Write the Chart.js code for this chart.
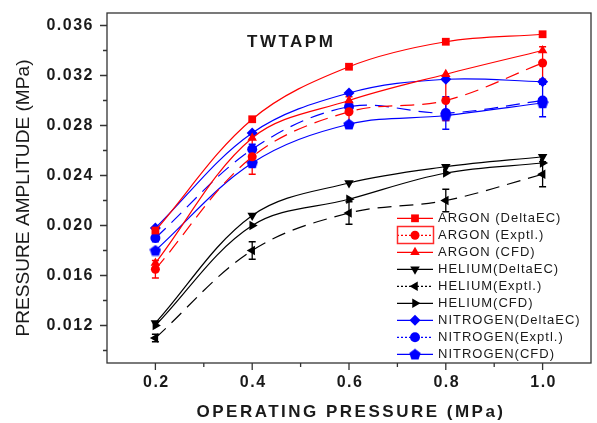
<!DOCTYPE html>
<html>
<head>
<meta charset="utf-8">
<script src="https://cdn.jsdelivr.net/npm/chart.js@4.4.1/dist/chart.umd.min.js"></script>
<style>
  body { margin: 0; background: #fff; }
  #wrap { width: 597px; height: 423px; position: relative; }
</style>
</head>
<body>
<div id="wrap"><canvas id="myChart"></canvas></div>
<script>
// values
var pressure = [0.2, 0.4, 0.6, 0.8, 1.0];

var argonDeltaEC = [0.0196, 0.0285, 0.0327, 0.0347, 0.0353];
var argonExptl = [0.0165, 0.0255, 0.0291, 0.0300, 0.0330];
var argonExptlErr = [0.0007, 0.0014, 0.0012, 0.0016, 0.0013];
var argonCFD = [0.0170, 0.0270, 0.0300, 0.0321, 0.0340];

var heliumDeltaEC = [0.0122, 0.0208, 0.0234, 0.0247, 0.0255];
var heliumExptl = [0.0110, 0.0180, 0.0210, 0.0220, 0.0241];
var heliumExptlErr = [0.0003, 0.0007, 0.0009, 0.0009, 0.0010];
var heliumCFD = [0.0120, 0.0200, 0.0221, 0.0242, 0.0250];

var nitrogenDeltaEC = [0.0198, 0.0274, 0.0306, 0.0317, 0.0315];
var nitrogenExptl = [0.0190, 0.0261, 0.0295, 0.0290, 0.0300];
var nitrogenExptlErr = [0.0003, 0.0004, 0.0004, 0.0013, 0.0013];
var nitrogenCFD = [0.0180, 0.0250, 0.0281, 0.0288, 0.0298];

var xTicks = [0.2, 0.4, 0.6, 0.8, 1.0];
var xMinorTicks = [0.3, 0.5, 0.7, 0.9];
var yTicks = [0.012, 0.016, 0.020, 0.024, 0.028, 0.032, 0.036];
var yMinorTicks = [0.010, 0.014, 0.018, 0.022, 0.026, 0.030, 0.034];

var RED = '#ff0000', BLUE = '#0000ff', BLACK = '#000000';

// pentagon marker for nitrogen CFD
var pent = document.createElement('canvas');
pent.width = 12; pent.height = 12;
(function () {
    var c = pent.getContext('2d');
    c.fillStyle = BLUE;
    c.beginPath();
    for (var i = 0; i < 5; i++) {
        var a = -Math.PI / 2 + i * 2 * Math.PI / 5;
        var px = 6 + 6 * Math.cos(a), py = 6.5 + 6 * Math.sin(a);
        if (i === 0) c.moveTo(px, py); else c.lineTo(px, py);
    }
    c.closePath();
    c.fill();
})();

function pts(arr) {
    return pressure.map(function (p, i) { return { x: p, y: arr[i] }; });
}

function series(label, arr, color, style, rot, dashed, radius, err) {
    return {
        label: label,
        data: pts(arr),
        borderColor: color,
        backgroundColor: color,
        borderWidth: 1.2,
        borderDash: dashed ? [14, 8] : [],
        pointStyle: style,
        rotation: rot,
        pointRadius: radius,
        pointBorderWidth: 0,
        tension: 0.35,
        err: err
    };
}

var datasets = [
    series('ARGON (DeltaEC)', argonDeltaEC, RED, 'rect', 0, false, 5.5),
    series('ARGON (Exptl.)', argonExptl, RED, 'circle', 0, true, 4.5, argonExptlErr),
    series('ARGON (CFD)', argonCFD, RED, 'triangle', 0, false, 5.5),
    series('HELIUM(DeltaEC)', heliumDeltaEC, BLACK, 'triangle', 180, false, 5.5),
    series('HELIUM(Exptl.)', heliumExptl, BLACK, 'triangle', 270, true, 5.5, heliumExptlErr),
    series('HELIUM(CFD)', heliumCFD, BLACK, 'triangle', 90, false, 5.5),
    series('NITROGEN(DeltaEC)', nitrogenDeltaEC, BLUE, 'rectRot', 0, false, 5.5),
    series('NITROGEN(Exptl.)', nitrogenExptl, BLUE, 'circle', 0, true, 5, nitrogenExptlErr),
    series('NITROGEN(CFD)', nitrogenCFD, BLUE, pent, 0, false, 6)
];

function spaced(ctx, px) {
    if ('letterSpacing' in ctx) ctx.letterSpacing = px + 'px';
}

var decor = {
    id: 'decor',
    beforeDatasetsDraw: function (chart) {
        var ctx = chart.ctx, y = chart.scales.y;
        ctx.save();
        chart.data.datasets.forEach(function (ds, i) {
            if (!ds.err) return;
            var meta = chart.getDatasetMeta(i);
            ctx.strokeStyle = ds.borderColor;
            ctx.lineWidth = 1.3;
            meta.data.forEach(function (pt, j) {
                var v = ds.data[j].y, e = ds.err[j];
                var top = y.getPixelForValue(v + e), bot = y.getPixelForValue(v - e);
                ctx.beginPath();
                ctx.moveTo(pt.x, top); ctx.lineTo(pt.x, bot);
                ctx.moveTo(pt.x - 3.5, top); ctx.lineTo(pt.x + 3.5, top);
                ctx.moveTo(pt.x - 3.5, bot); ctx.lineTo(pt.x + 3.5, bot);
                ctx.stroke();
            });
        });
        ctx.restore();
    },
    afterDraw: function (chart) {
        var ctx = chart.ctx, a = chart.chartArea;
        var xs = chart.scales.x, ys = chart.scales.y;
        ctx.save();
        // frame
        ctx.strokeStyle = '#333';
        ctx.lineWidth = 1.3;
        ctx.strokeRect(a.left, a.top, a.right - a.left, a.bottom - a.top);

        // ticks
        ctx.beginPath();
        xTicks.forEach(function (v) { var px = xs.getPixelForValue(v); ctx.moveTo(px, a.bottom); ctx.lineTo(px, a.bottom + 7); });
        xMinorTicks.forEach(function (v) { var px = xs.getPixelForValue(v); ctx.moveTo(px, a.bottom); ctx.lineTo(px, a.bottom + 4); });
        yTicks.forEach(function (v) { var py = ys.getPixelForValue(v); ctx.moveTo(a.left, py); ctx.lineTo(a.left - 7, py); });
        yMinorTicks.forEach(function (v) { var py = ys.getPixelForValue(v); ctx.moveTo(a.left, py); ctx.lineTo(a.left - 4, py); });
        ctx.stroke();

        // tick labels
        ctx.fillStyle = '#1a1a1a';
        ctx.font = 'bold 16px "Liberation Sans", Arial, sans-serif';
        spaced(ctx, 1.5);
        ctx.textBaseline = 'middle';
        ctx.textAlign = 'center';
        xTicks.forEach(function (v) { ctx.fillText(v.toFixed(1), xs.getPixelForValue(v) + 1, 383); });
        ctx.textAlign = 'right';
        yTicks.forEach(function (v) { ctx.fillText(v.toFixed(3), 94, ys.getPixelForValue(v)); });

        // axis titles
        ctx.font = 'bold 17px "Liberation Sans", Arial, sans-serif';
        spaced(ctx, 2.5);
        ctx.textAlign = 'center';
        ctx.fillText('OPERATING PRESSURE (MPa)', 351, 412);

        // y title is a condensed face in the original: squeeze to its length
        spaced(ctx, 0);
        ctx.save();
        ctx.font = '19px "Liberation Sans", Arial, sans-serif';
        var yt = 'PRESSURE AMPLITUDE (MPa)';
        var w = ctx.measureText(yt).width;
        ctx.translate(24, 198);
        ctx.rotate(-Math.PI / 2);
        ctx.scale(277 / w, 1);
        ctx.fillText(yt, 0, 0);
        ctx.restore();

        // inner title
        ctx.font = 'bold 17px "Liberation Sans", Arial, sans-serif';
        spaced(ctx, 2.5);
        ctx.textAlign = 'left';
        ctx.fillText('TWTAPM', 247, 42);

        // legend
        var lx0 = 397, lx1 = 433, ly = 218.3, step = 17.0;
        ctx.font = '13px "Liberation Sans", Arial, sans-serif';
        spaced(ctx, 1);
        chart.data.datasets.forEach(function (ds, i) {
            var yy = ly + i * step;
            ctx.save();
            ctx.strokeStyle = ds.borderColor;
            ctx.lineWidth = 1.2;
            ctx.setLineDash(ds.err ? [2, 2] : []);
            ctx.beginPath();
            ctx.moveTo(lx0, yy); ctx.lineTo(lx1, yy);
            ctx.stroke();
            ctx.setLineDash([]);
            ctx.fillStyle = ds.backgroundColor;
            Chart.helpers.drawPoint(ctx, {
                pointStyle: ds.pointStyle,
                rotation: ds.rotation,
                radius: ds.pointRadius,
                borderWidth: 0
            }, (lx0 + lx1) / 2, yy);
            ctx.restore();
            ctx.fillStyle = '#1a1a1a';
            ctx.textAlign = 'left';
            ctx.fillText(ds.label, 438, yy + 0.5);
        });
        // selection box around the second entry
        spaced(ctx, 0);
        ctx.setLineDash([]);
        ctx.strokeStyle = '#ff2a2a';
        ctx.lineWidth = 1.5;
        ctx.strokeRect(397.5, 226.5, 36, 17);
        ctx.restore();
    }
};

var ctx = document.getElementById('myChart').getContext('2d');
var myChart = new Chart(ctx, {
    type: 'line',
    data: { datasets: datasets },
    options: {
        responsive: true,
        maintainAspectRatio: false,
        animation: false,
        layout: { padding: { top: 13, right: 5, left: 0, bottom: 0 } },
        plugins: {
            legend: { display: false },
            tooltip: { enabled: false }
        },
        scales: {
            x: {
                type: 'linear',
                min: 0.1,
                max: 1.1,
                grid: { display: false, drawTicks: false },
                border: { display: false },
                ticks: { display: false },
                afterBuildTicks: function (s) { s.ticks = xTicks.map(function (v) { return { value: v }; }); },
                afterFit: function (s) { s.height = 60; }
            },
            y: {
                min: 0.009,
                max: 0.037,
                grid: { display: false, drawTicks: false },
                border: { display: false },
                ticks: { display: false },
                afterBuildTicks: function (s) { s.ticks = yTicks.map(function (v) { return { value: v }; }); },
                afterFit: function (s) { s.width = 107; }
            }
        }
    },
    plugins: [decor]
});
</script>
</body>
</html>
